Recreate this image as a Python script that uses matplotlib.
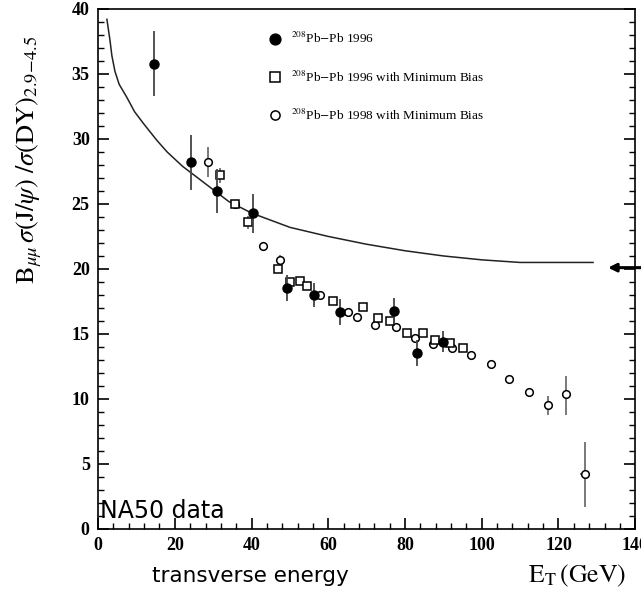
import matplotlib
matplotlib.use("Agg")
import matplotlib.pyplot as plt
from matplotlib.ticker import MultipleLocator

plt.rcParams['mathtext.fontset'] = 'stix'

# Pb-Pb 1996 (filled circles)
x_96 = [14.6, 24.2, 31.0, 40.4, 49.2, 56.3, 63.1, 77.2, 83.1, 90.0]
y_96 = [35.8, 28.2, 26.0, 24.3, 18.5, 18.0, 16.7, 16.8, 13.5, 14.4]
e_96 = [2.5, 2.1, 1.7, 1.5, 1.0, 0.9, 1.0, 1.0, 1.0, 0.8]

# Pb-Pb 1996 with minimum bias (open squares)
x_96mb = [31.8, 35.7, 39.1, 46.8, 50.1, 52.7, 54.5, 61.3, 69.1, 73.0, 76.1,
          80.6, 84.7, 87.9, 91.8, 95.2]
y_96mb = [27.2, 25.0, 23.6, 20.0, 19.0, 19.1, 18.7, 17.5, 17.1, 16.2, 16.0,
          15.1, 15.1, 14.5, 14.3, 13.9]
e_96mb = [0.6, 0.3, 0.5, 0.3, 0.3, 0.3, 0.3, 0.3, 0.3, 0.3, 0.3,
          0.3, 0.3, 0.3, 0.3, 0.3]

# Pb-Pb 1998 with minimum bias (open circles)
x_98 = [28.7, 35.7, 43.0, 47.5, 57.9, 65.2, 67.5, 72.2, 77.7, 82.6, 87.3,
        92.3, 97.2, 102.4, 107.1, 112.4, 117.3, 122.0, 127.0]
y_98 = [28.2, 25.0, 21.8, 20.7, 18.0, 16.7, 16.3, 15.7, 15.5, 14.7, 14.2,
        13.9, 13.4, 12.7, 11.5, 10.5, 9.5, 10.4, 4.2]
e_98_lo = [1.1, 0.3, 0.3, 0.4, 0.3, 0.3, 0.3, 0.3, 0.3, 0.3, 0.3,
           0.3, 0.3, 0.2, 0.2, 0.2, 0.7, 1.6, 2.5]
e_98_hi = [1.2, 0.3, 0.3, 0.4, 0.3, 0.3, 0.3, 0.3, 0.3, 0.3, 0.3,
           0.3, 0.3, 0.2, 0.2, 0.2, 0.7, 1.4, 2.5]
xe_98 = [0]*18 + [1.3]

# expected (normal nuclear absorption) curve
x_curve = [2.3, 2.7, 3.1, 3.6, 4.4, 5.5, 7.5, 9.5, 11.8, 15.3, 18.0, 22.0, 26.0,
           30.0, 34.0, 40.0, 50.0, 60.0, 70.0, 80.0, 90.0, 100.0, 110.0, 120.0, 129.0]
y_curve = [39.2, 38.4, 37.6, 36.4, 35.2, 34.2, 33.2, 32.1, 31.2, 29.9, 29.0, 27.9, 27.0,
           26.1, 25.2, 24.3, 23.2, 22.5, 21.9, 21.4, 21.0, 20.7, 20.5, 20.5, 20.5]

fig = plt.figure(figsize=(6.41, 5.97), dpi=100)
ax = fig.add_axes([0.153, 0.114, 0.838, 0.871])

ax.plot(x_curve, y_curve, color='#222222', lw=1.1)

c98 = ax.errorbar(x_98, y_98, yerr=[e_98_lo, e_98_hi], xerr=xe_98, fmt='o', ms=5.5,
                  mfc='white', mec='black', mew=1.1, ecolor='#555555', elinewidth=1.1,
                  capsize=0, zorder=3)
c96mb = ax.errorbar(x_96mb, y_96mb, yerr=e_96mb, fmt='s', ms=5.5,
                    mfc='white', mec='black', mew=1.1, ecolor='#555555', elinewidth=1.1,
                    capsize=0, zorder=3)
c96 = ax.errorbar(x_96, y_96, yerr=e_96, fmt='o', ms=6.5, color='black',
                  ecolor='#444444', elinewidth=1.3, capsize=0, zorder=4)

labels = [r'$^{208}$Pb$-$Pb 1996',
          r'$^{208}$Pb$-$Pb 1996 with Minimum Bias',
          r'$^{208}$Pb$-$Pb 1998 with Minimum Bias']
leg = ax.legend([c96[0], c96mb[0], c98[0]], labels, loc='upper left',
                bbox_to_anchor=(0.295, 0.98), frameon=False,
                prop={'family': 'Liberation Serif', 'size': 9.5},
                labelspacing=1.75, handlelength=1.0, handletextpad=0.7,
                markerscale=1.2)

# arrow at right edge
ax.annotate('', xy=(132.2, 20.1), xytext=(145, 20.1), annotation_clip=False,
            arrowprops=dict(arrowstyle='-|>', color='black', lw=2.2,
                            mutation_scale=12))

ax.set_xlim(0, 140)
ax.set_ylim(0, 40)
ax.xaxis.set_major_locator(MultipleLocator(20))
ax.xaxis.set_minor_locator(MultipleLocator(4))
ax.yaxis.set_major_locator(MultipleLocator(5))
ax.yaxis.set_minor_locator(MultipleLocator(1))
ax.tick_params(which='both', direction='in', top=False, right=True)
ax.tick_params(which='major', length=8, width=1.2)
ax.tick_params(which='minor', length=4, width=1.0)
ax.tick_params(axis='both', which='major', pad=6)
for lab in ax.get_xticklabels() + ax.get_yticklabels():
    lab.set_family('Liberation Serif')
    lab.set_fontsize(13)
    lab.set_fontweight('bold')
for s in ax.spines.values():
    s.set_linewidth(1.2)

ax.set_ylabel(r'$\mathrm{B}_{\mu\mu}\,\sigma(\mathrm{J}/\psi)\ /\sigma(\mathrm{DY})_{2.9\!-\!4.5}$',
              fontsize=19)
ax.yaxis.set_label_coords(-0.1, 0.71)

ax.text(0.004, 0.012, 'NA50 data', transform=ax.transAxes, fontsize=17,
        family='DejaVu Sans', ha='left', va='bottom')

fig.text(0.39, 0.035, 'transverse energy', fontsize=15.5, family='DejaVu Sans',
         ha='center', va='center')
fig.text(0.9, 0.035, r'$\mathrm{E_T\,(GeV)}$', fontsize=18.5,
         ha='center', va='center')

fig.savefig('out.png', dpi=100)
